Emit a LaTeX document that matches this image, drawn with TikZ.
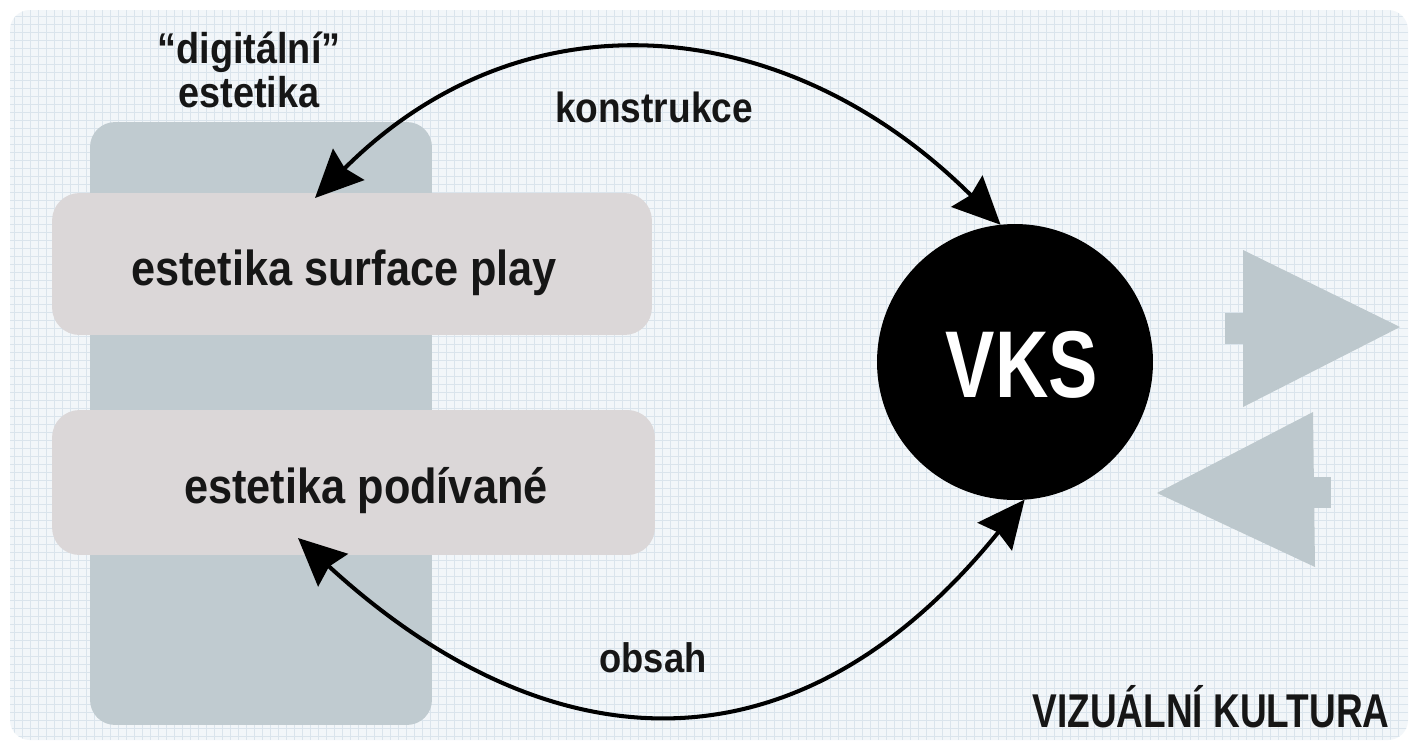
\documentclass[tikz,border=0pt]{standalone}
\usepackage{fontspec}
\setmainfont{Liberation Sans}
\newfontfamily\condfont[FakeStretch=0.78]{Liberation Sans}
\newfontfamily\semifont[FakeStretch=0.88]{Liberation Sans}
\usetikzlibrary{arrows.meta}
\definecolor{bgfill}{HTML}{F2F6F9}
\definecolor{gridc}{HTML}{DAE4EC}
\definecolor{tallc}{HTML}{C0CBD0}
\definecolor{boxc}{HTML}{DBD7D8}
\definecolor{grayarrow}{HTML}{BDC8CD}
\definecolor{inkc}{HTML}{161616}
\tikzset{
  lbl/.style={text=inkc, font=\bfseries, inner sep=0pt, anchor=base},
  lightbox/.style={fill=boxc, rounded corners=0.55cm, minimum width=12cm, inner sep=0pt, outer sep=0pt},
  conn/.style={draw=black, line width=2.3pt, {Stealth[length=27pt,width=25pt,inset=3pt]}-{Stealth[length=27pt,width=25pt,inset=3pt]}},
  gridline/.style={draw=gridc, line width=0.45pt},
  garrow/.style={fill=grayarrow, draw=none}
}
\begin{document}
\begin{tikzpicture}[x=0.02cm, y=-0.02cm]
\useasboundingbox (0,0) rectangle (1416,748);
\fill[white] (0,0) rectangle (1416,748);
% background panel with grid
\fill[bgfill, rounded corners=0.4cm] (10,10) rectangle (1408,740);
\begin{scope}
  \clip[rounded corners=0.4cm] (10,10) rectangle (1408,740);
  \foreach \gx in {14,22,...,1404} \draw[gridline] (\gx,10) -- (\gx,740);
  \foreach \gy in {16,24,...,736} \draw[gridline] (10,\gy) -- (1408,\gy);
\end{scope}
% tall column
\node[fill=tallc, rounded corners=0.5cm, minimum width=6.84cm, minimum height=12.06cm, inner sep=0pt] (col) at (261,423.5) {};
% boxes
\node[lightbox, minimum height=2.84cm] (box1) at (352,264) {};
\node[lightbox, minimum width=12.06cm, minimum height=2.9cm] (box2) at (353.5,482.5) {};
\node[lbl, font=\semifont\bfseries\fontsize{28}{30}\selectfont] (t1) at (344,285) {estetika surface play};
\node[lbl, font=\semifont\bfseries\fontsize{28}{30}\selectfont] (t2) at (366,503) {estetika podívané};
% column title
\node[lbl, font=\semifont\bfseries\fontsize{24.5}{26}\selectfont] (dig1) at (249,63) {“digitální”};
\node[lbl, font=\semifont\bfseries\fontsize{24.5}{26}\selectfont] (dig2) at (249,107) {estetika};
% VKS circle
\node[circle, fill=black, minimum size=5.52cm, inner sep=0pt, outer sep=0pt] (vks) at (1015,362) {};
\node[lbl, text=white, font=\condfont\bfseries\fontsize{54}{58}\selectfont] (vkst) at (1022,397) {VKS};
% connectors
\coordinate (k1) at (315,198);
\coordinate (o1) at (298,538);
\draw[conn] (k1) .. controls (526,-13) and (789,14) .. (vks.96);
\draw[conn] (o1) .. controls (540,760) and (790,790) .. (vks.-86);
\node[lbl, font=\semifont\bfseries\fontsize{24}{26}\selectfont] (konst) at (654,122) {konstrukce};
\node[lbl, font=\semifont\bfseries\fontsize{23.5}{26}\selectfont] (obsah) at (653,672) {obsah};
% grey arrows on the right
\fill[garrow] (1225,313) rectangle (1246,344);
\fill[garrow] (1243,250) -- (1243,407) -- (1400,327) -- cycle;
\fill[garrow] (1310,477) rectangle (1331,508);
\fill[garrow] (1157,493) -- (1313,412) -- (1315,567) -- cycle;
% bottom label
\node[lbl, font=\condfont\bfseries\fontsize{27}{29}\selectfont] (vk) at (1211,727) {VIZUÁLNÍ KULTURA};
\end{tikzpicture}
\end{document}
